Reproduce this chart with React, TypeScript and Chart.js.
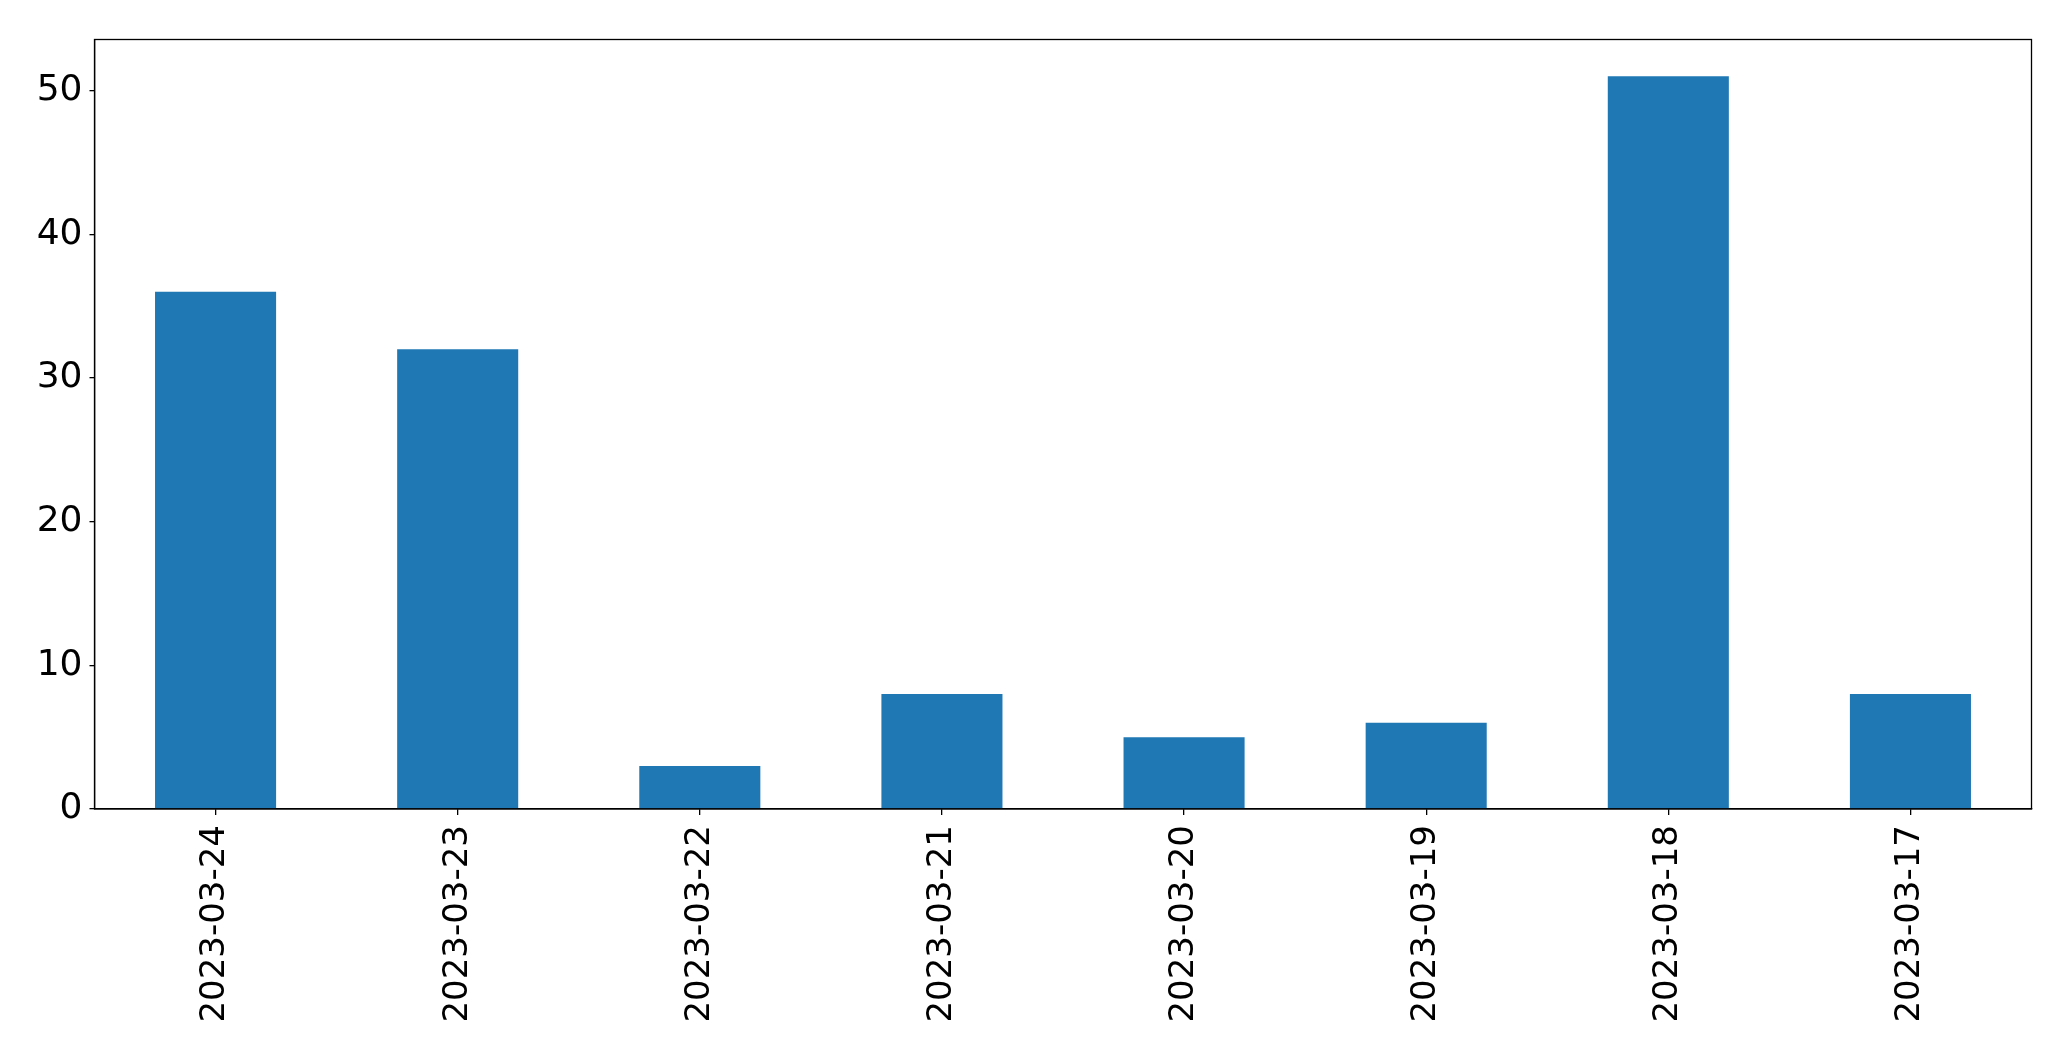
import React, { useEffect, useRef } from "react";
import { Chart, registerables } from "chart.js";

Chart.register(...registerables);

const categories = [
  "2023-03-24",
  "2023-03-23",
  "2023-03-22",
  "2023-03-21",
  "2023-03-20",
  "2023-03-19",
  "2023-03-18",
  "2023-03-17",
];
const values = [36, 32, 3, 8, 5, 6, 51, 8];
const yTicks = [0, 10, 20, 30, 40, 50];
const yMax = 53.55;

const W = 2071;
const H = 1061;

const boxPlugin = {
  id: "box",
  afterDraw(chart: any) {
    const { ctx, chartArea } = chart;
    ctx.save();
    ctx.strokeStyle = "#000";
    ctx.lineWidth = 1.3;
    ctx.strokeRect(chartArea.left, chartArea.top, chartArea.right - chartArea.left, chartArea.bottom - chartArea.top);
    ctx.restore();
  },
};

export default function App() {
  const ref = useRef<HTMLCanvasElement | null>(null);
  useEffect(() => {
    if (!ref.current) return;
    const family = "'DejaVu Sans', sans-serif";
    const chart = new Chart(ref.current, {
      type: "bar",
      data: {
        labels: categories,
        datasets: [
          {
            data: values,
            backgroundColor: "#1f77b4",
            borderWidth: 0,
            barPercentage: 0.5,
            categoryPercentage: 1,
          },
        ],
      },
      options: {
        animation: false,
        responsive: false,
        devicePixelRatio: 1,
        layout: { padding: { top: 39.5, right: 39.5, left: 0, bottom: 0 } },
        plugins: { legend: { display: false }, tooltip: { enabled: false } },
        scales: {
          x: {
            type: "category",
            offset: true,
            grid: {
              display: true,
              offset: false,
              drawOnChartArea: false,
              drawTicks: true,
              tickLength: 6,
              color: "#000",
              lineWidth: 1.3,
            },
            border: { display: true, color: "#000", width: 1.3 },
            ticks: {
              color: "#000",
              font: { family, size: 34 },
              minRotation: 90,
              maxRotation: 90,
              autoSkip: false,
              padding: 10,
            },
            afterFit(scale: any) {
              scale.height = 252;
            },
          },
          y: {
            type: "linear",
            min: 0,
            max: yMax,
            grid: {
              display: true,
              drawOnChartArea: false,
              drawTicks: true,
              tickLength: 5,
              color: "#000",
              lineWidth: 1.3,
            },
            border: { display: true, color: "#000", width: 1.3 },
            ticks: {
              color: "#000",
              font: { family, size: 36 },
              padding: 7,
            },
            afterBuildTicks(scale: any) {
              scale.ticks = yTicks.map((v) => ({ value: v }));
            },
            afterFit(scale: any) {
              scale.width = 94.5;
            },
          },
        },
      },
      plugins: [boxPlugin],
    });
    return () => chart.destroy();
  }, []);
  return (
    <div style={{ position: "fixed", left: 0, top: 0, width: W, height: H, background: "#fff" }}>
      <canvas ref={ref} width={W} height={H} style={{ width: W, height: H, display: "block" }} />
    </div>
  );
}
